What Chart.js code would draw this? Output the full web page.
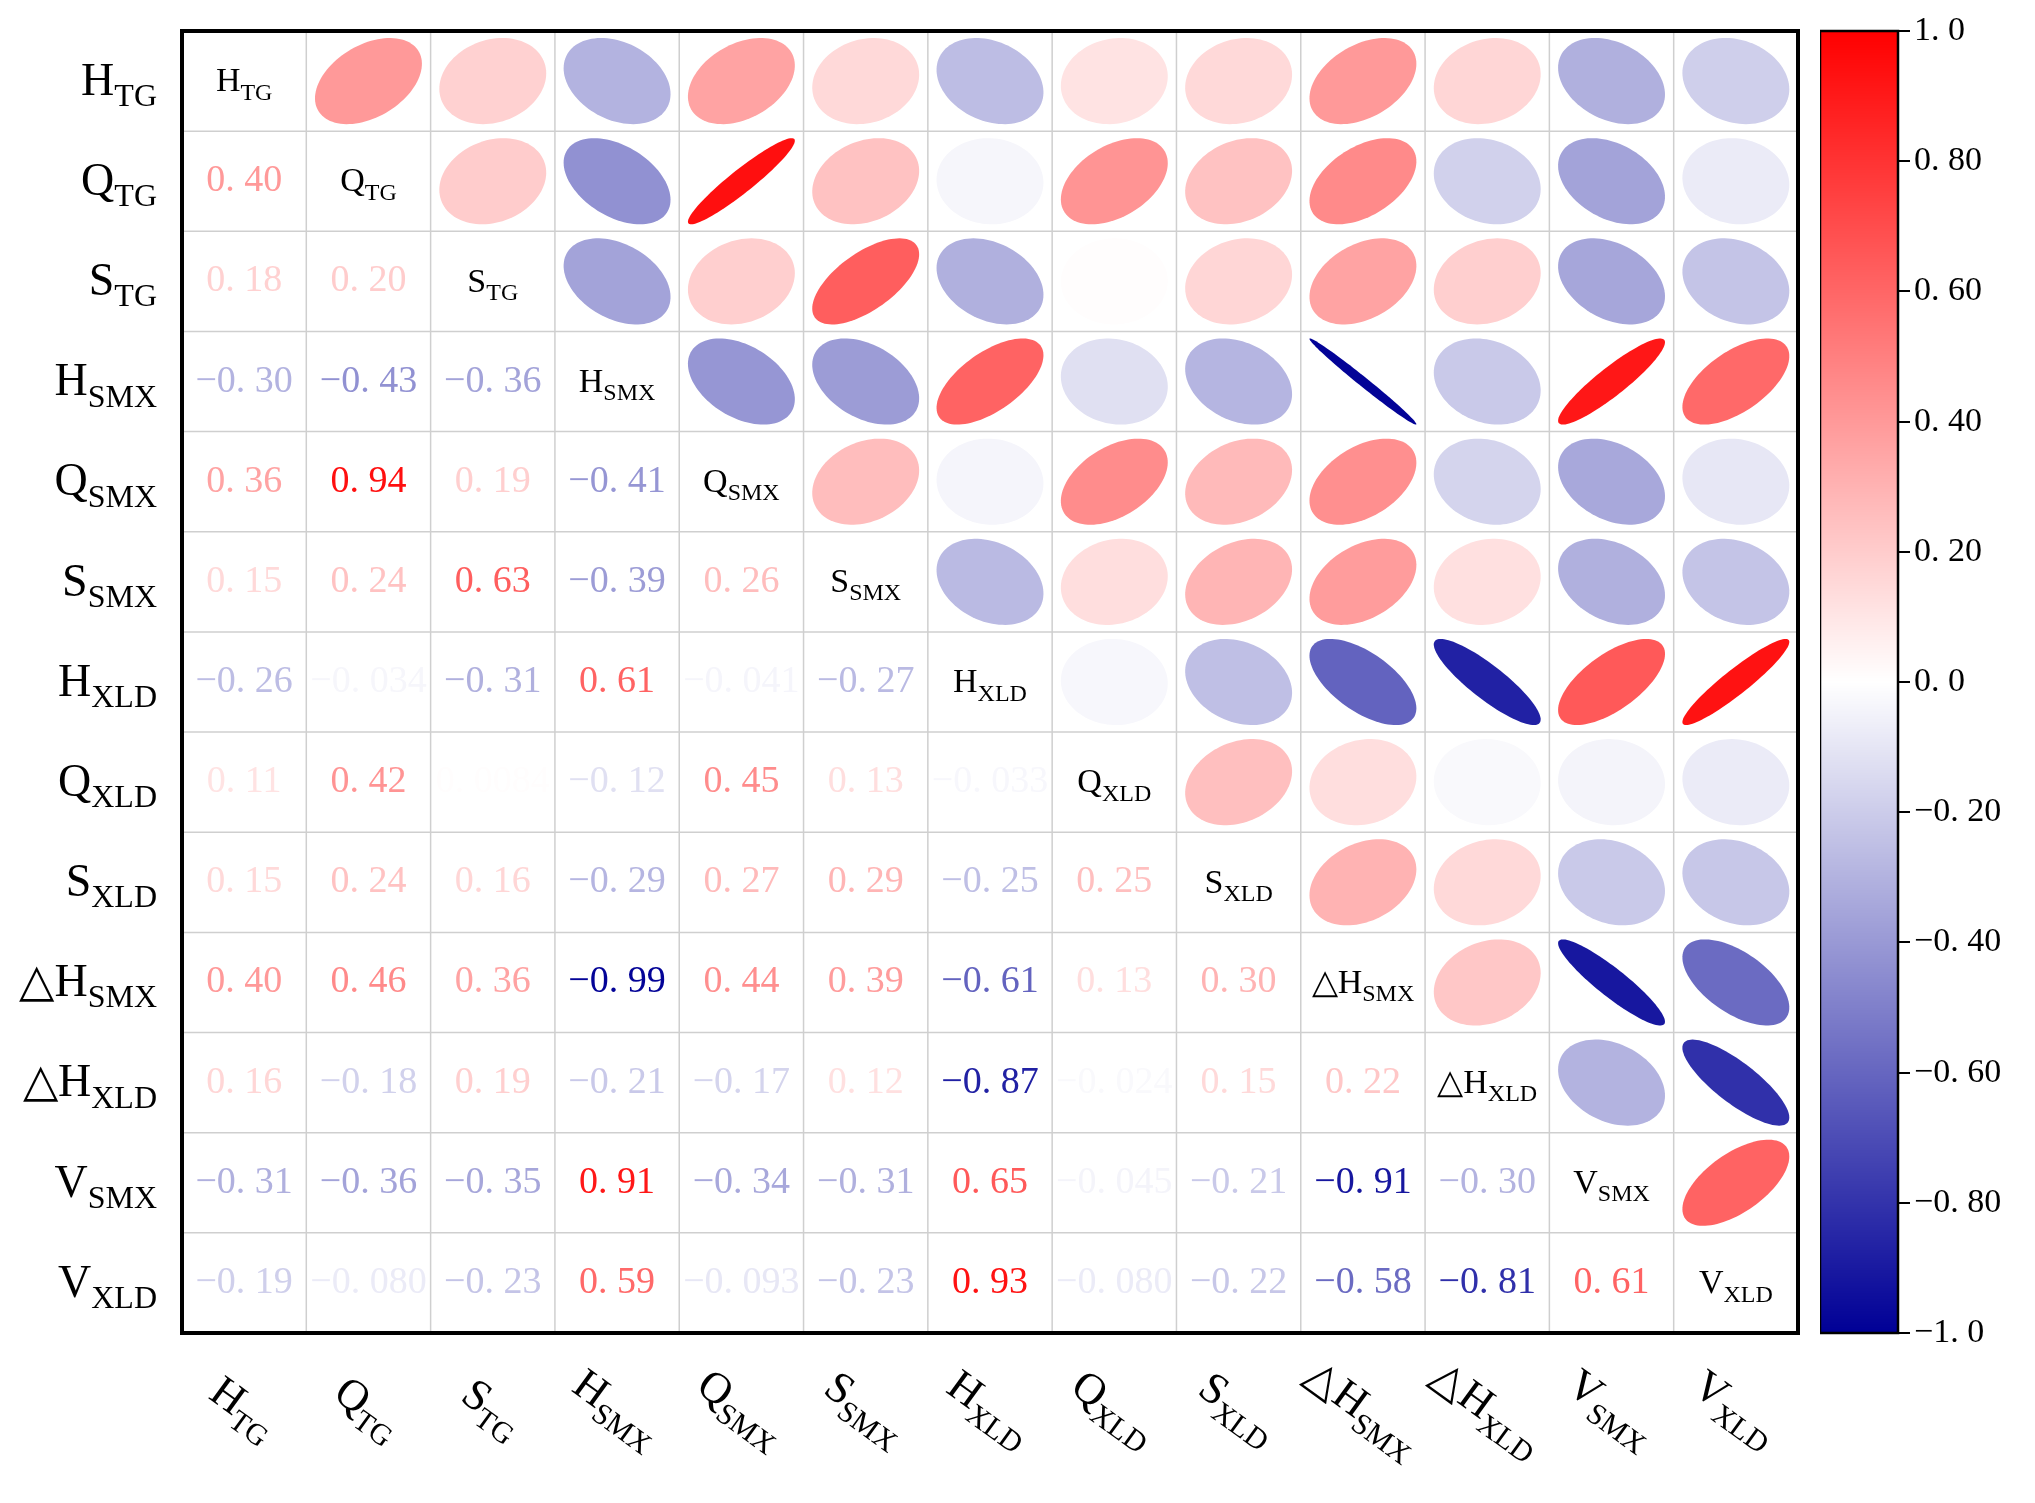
<!DOCTYPE html>
<html>
<head>
<meta charset="utf-8">
<script src="https://cdn.jsdelivr.net/npm/chart.js@4.4.1/dist/chart.umd.min.js"></script>
<style>
  body { margin: 0; background: #fff; }
  #wrap { position: relative; width: 2035px; height: 1503px; }
  canvas { position: absolute; left: 0; top: 0; }
</style>
</head>
<body>
<div id="wrap">
  <canvas id="matrix" width="2035" height="1503"></canvas>
  <canvas id="bar" width="215" height="1503" style="left:1820px"></canvas>
</div>
<script>
// ---------------------------------------------------------------------------
// DATA
// ---------------------------------------------------------------------------
const varMain = ['H', 'Q', 'S', 'H', 'Q', 'S', 'H', 'Q', 'S', '\u25B3H', '\u25B3H', 'V', 'V'];
const varSub = ['TG', 'TG', 'TG', 'SMX', 'SMX', 'SMX', 'XLD', 'XLD', 'XLD', 'SMX', 'XLD', 'SMX', 'XLD'];

// lower triangle, row by row (row i has i values)
const lowerRows = [
  [],
  [0.40],
  [0.18, 0.20],
  [-0.30, -0.43, -0.36],
  [0.36, 0.94, 0.19, -0.41],
  [0.15, 0.24, 0.63, -0.39, 0.26],
  [-0.26, -0.034, -0.31, 0.61, -0.041, -0.27],
  [0.11, 0.42, 0.0084, -0.12, 0.45, 0.13, -0.033],
  [0.15, 0.24, 0.16, -0.29, 0.27, 0.29, -0.25, 0.25],
  [0.40, 0.46, 0.36, -0.99, 0.44, 0.39, -0.61, 0.13, 0.30],
  [0.16, -0.18, 0.19, -0.21, -0.17, 0.12, -0.87, -0.024, 0.15, 0.22],
  [-0.31, -0.36, -0.35, 0.91, -0.34, -0.31, 0.65, -0.045, -0.21, -0.91, -0.30],
  [-0.19, -0.080, -0.23, 0.59, -0.093, -0.23, 0.93, -0.080, -0.22, -0.58, -0.81, 0.61]
];

const barTicks = [1.0, 0.8, 0.6, 0.4, 0.2, 0.0, -0.2, -0.4, -0.6, -0.8, -1.0];
const barTickText = ['1. 0', '0. 80', '0. 60', '0. 40', '0. 20', '0. 0', '\u22120. 20', '\u22120. 40', '\u22120. 60', '\u22120. 80', '\u22121. 0'];

// ---------------------------------------------------------------------------
// HELPERS
// ---------------------------------------------------------------------------
const n = varMain.length;
const corr = (i, j) => i === j ? 1 : (i > j ? lowerRows[i][j] : lowerRows[j][i]);

function colorFor(r) {
  const t = Math.min(1, Math.abs(r));
  if (r >= 0) {
    return `rgb(255,${Math.round(255 * (1 - t))},${Math.round(255 * (1 - t))})`;
  }
  return `rgb(${Math.round(255 * (1 - t))},${Math.round(255 * (1 - t))},${Math.round(255 - 105 * t)})`;
}

function fmt(v) {
  let s;
  if (Math.abs(v) < 0.01) s = Math.abs(v).toFixed(4);
  else if (Math.abs(v) < 0.1) s = Math.abs(v).toFixed(3);
  else s = Math.abs(v).toFixed(2);
  s = s.replace('.', '. ');
  return (v < 0 ? '\u2212' : '') + s;
}

function drawLabel(ctx, x, y, i, big, small, align) {
  ctx.font = `${big}px "Liberation Serif"`;
  const w1 = ctx.measureText(varMain[i]).width;
  ctx.font = `${small}px "Liberation Serif"`;
  const w2 = ctx.measureText(varSub[i]).width;
  let x0 = align === 'right' ? x - w1 - w2 : x - (w1 + w2) / 2;
  ctx.textAlign = 'left';
  ctx.textBaseline = 'alphabetic';
  ctx.font = `${big}px "Liberation Serif"`;
  ctx.fillText(varMain[i], x0, y + big * 0.3);
  ctx.font = `${small}px "Liberation Serif"`;
  ctx.fillText(varSub[i], x0 + w1, y + big * 0.3 + small * 0.35);
}

// ---------------------------------------------------------------------------
// MATRIX PLUGIN
// ---------------------------------------------------------------------------
const matrixPlugin = {
  id: 'matrix',
  afterDraw(chart) {
    const { ctx, chartArea: a, scales: { x, y } } = chart;
    const cw = (a.right - a.left) / n;
    const ch = (a.bottom - a.top) / n;
    ctx.save();

    // grid
    ctx.strokeStyle = '#cfcfcf';
    ctx.lineWidth = 1.5;
    for (let k = 1; k < n; k++) {
      const px = x.getPixelForValue(k - 0.5);
      const py = y.getPixelForValue(k - 0.5);
      ctx.beginPath(); ctx.moveTo(px, a.top); ctx.lineTo(px, a.bottom); ctx.stroke();
      ctx.beginPath(); ctx.moveTo(a.left, py); ctx.lineTo(a.right, py); ctx.stroke();
    }

    for (let i = 0; i < n; i++) {
      for (let j = 0; j < n; j++) {
        const cx = x.getPixelForValue(j);
        const cy = y.getPixelForValue(i);
        const r = corr(i, j);
        if (i === j) {
          ctx.fillStyle = '#000';
          drawLabel(ctx, cx, cy, i, 34, 24, 'center');
        } else if (i > j) {
          ctx.fillStyle = colorFor(r);
          ctx.font = '38px "Liberation Serif"';
          ctx.textAlign = 'center';
          ctx.textBaseline = 'middle';
          ctx.fillText(fmt(r), cx, cy);
        } else {
          const d = Math.acos(Math.max(-1, Math.min(1, r)));
          const rx = cw * 0.43, ry = ch * 0.43;
          ctx.beginPath();
          for (let s = 0; s <= 100; s++) {
            const t = s / 100 * Math.PI * 2;
            const px = cx + rx * Math.cos(t + d / 2);
            const py = cy - ry * Math.cos(t - d / 2);
            if (s === 0) ctx.moveTo(px, py); else ctx.lineTo(px, py);
          }
          ctx.closePath();
          ctx.fillStyle = colorFor(r);
          ctx.fill();
        }
      }
    }

    // border
    ctx.strokeStyle = '#000';
    ctx.lineWidth = 4;
    ctx.strokeRect(a.left, a.top, a.right - a.left, a.bottom - a.top);

    // row labels
    ctx.fillStyle = '#000';
    for (let i = 0; i < n; i++) {
      drawLabel(ctx, a.left - 25, y.getPixelForValue(i), i, 46, 32, 'right');
    }
    // column labels (rotated)
    for (let j = 0; j < n; j++) {
      ctx.save();
      ctx.translate(x.getPixelForValue(j), a.bottom + 75);
      ctx.rotate(Math.PI / 5);
      drawLabel(ctx, 0, 0, j, 44, 30, 'center');
      ctx.restore();
    }
    ctx.restore();
  }
};

new Chart(document.getElementById('matrix'), {
  type: 'scatter',
  data: { datasets: [{ data: [] }] },
  options: {
    responsive: false,
    animation: false,
    layout: { padding: { left: 182, right: 237, top: 31, bottom: 170 } },
    plugins: { legend: { display: false }, tooltip: { enabled: false } },
    scales: {
      x: { type: 'linear', min: -0.5, max: n - 0.5, display: false },
      y: { type: 'linear', min: -0.5, max: n - 0.5, reverse: true, display: false }
    }
  },
  plugins: [matrixPlugin]
});

// ---------------------------------------------------------------------------
// COLOUR BAR
// ---------------------------------------------------------------------------
const barPlugin = {
  id: 'gradbar',
  beforeDatasetsDraw(chart) {
    const { ctx, chartArea: a, scales: { y } } = chart;
    ctx.save();
    for (let p = a.top; p < a.bottom; p++) {
      ctx.fillStyle = colorFor(y.getValueForPixel(p + 0.5));
      ctx.fillRect(a.left, p, a.right - a.left, 1);
    }
    ctx.strokeStyle = '#000';
    ctx.lineWidth = 2.5;
    ctx.strokeRect(a.left, a.top, a.right - a.left, a.bottom - a.top);
    ctx.restore();
  }
};

new Chart(document.getElementById('bar'), {
  type: 'scatter',
  data: { datasets: [{ data: [] }] },
  options: {
    responsive: false,
    animation: false,
    layout: { padding: { left: 0, right: 0, top: 31, bottom: 170 } },
    plugins: { legend: { display: false }, tooltip: { enabled: false } },
    scales: {
      x: { type: 'linear', min: 0, max: 1, display: false },
      y: {
        type: 'linear', position: 'right', min: -1, max: 1,
        afterBuildTicks(ax) { ax.ticks = barTicks.map(v => ({ value: v })); },
        afterFit(ax) { ax.width = 137; },
        border: { display: false },
        grid: { drawOnChartArea: false, drawTicks: true, tickLength: 12, color: '#000', lineWidth: 2 },
        ticks: {
          color: '#000', padding: 4,
          font: { family: 'Liberation Serif', size: 34 },
          callback: (v) => barTickText[barTicks.findIndex(t => Math.abs(t - v) < 1e-6)]
        }
      }
    }
  },
  plugins: [barPlugin]
});
</script>
</body>
</html>
